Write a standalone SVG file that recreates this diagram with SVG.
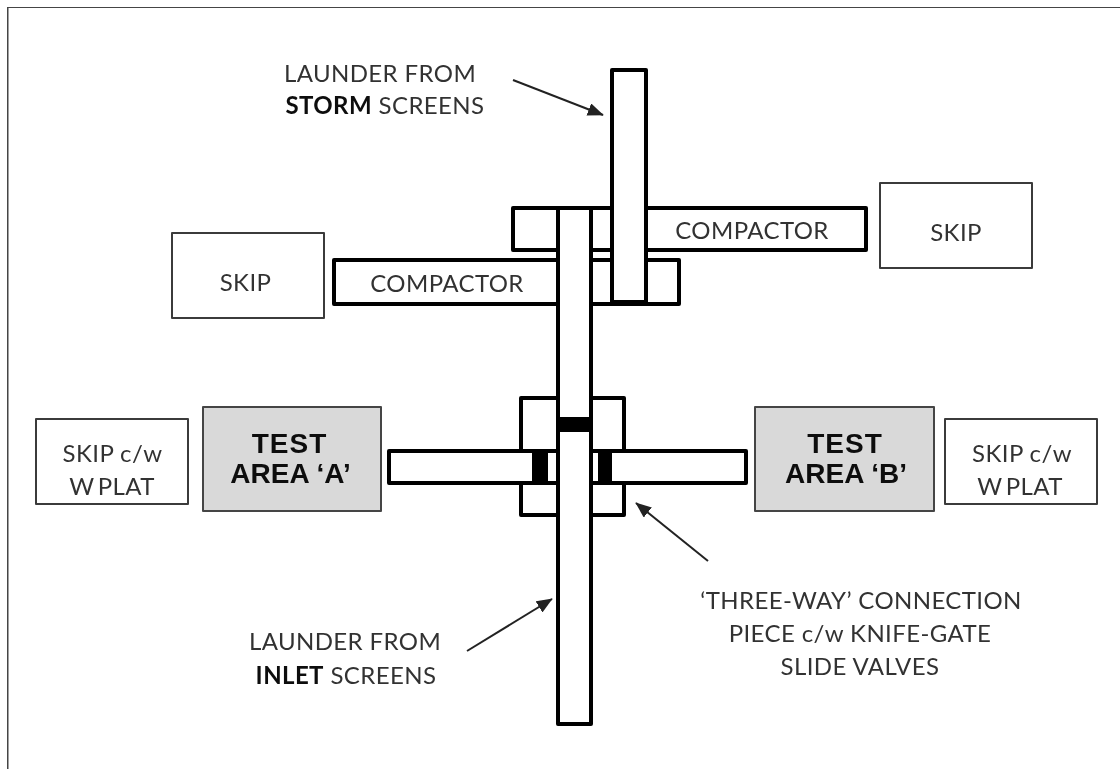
<svg xmlns="http://www.w3.org/2000/svg" width="1120" height="769" viewBox="0 0 1120 769">
<defs>
<marker id="ah" viewBox="0 0 10 10" refX="9.500" refY="5" markerWidth="16" markerHeight="13" markerUnits="userSpaceOnUse" orient="auto" preserveAspectRatio="none"><path d="M0 0L10 5L0 10Z" fill="#222"/></marker>
<filter id="soft" x="0" y="0" width="100%" height="100%"><feGaussianBlur stdDeviation="0.45"/></filter>
</defs>
<style>
.t{font-family:"Lato","Open Sans",sans-serif;font-size:24px;letter-spacing:.4px;fill:#333;text-anchor:middle}
.b{font-weight:700;fill:#111}
.box{fill:#fff;stroke:#3a3a3a;stroke-width:2;stroke-linejoin:round}
.test{fill:#d9d9d9;stroke:#444;stroke-width:2;stroke-linejoin:round}
.pipe{fill:#fff;stroke:#000;stroke-width:4;stroke-linejoin:round}
.big{font-family:"Liberation Sans",Arial,sans-serif;font-size:28px;font-weight:700;fill:#111;text-anchor:middle}
.blk{fill:#000}
.arr{fill:none;stroke:#222;stroke-width:2;marker-end:url(#ah)}
</style>
<rect width="1120" height="769" fill="#fff"/>
<g filter="url(#soft)">
<path d="M7.500 769V7H1120" fill="none" stroke="#444" stroke-width="2"/>
<g id="skip-top-right"><rect class="box" x="880" y="183" width="152" height="85"/><text class="t" x="956" y="241">SKIP</text></g>
<g id="skip-top-left"><rect class="box" x="172" y="233" width="152" height="85"/><text class="t" x="245.500" y="291">SKIP</text></g>
<g id="compactor-upper"><rect class="pipe" x="513" y="208" width="353" height="42"/><text class="t" x="752" y="239">COMPACTOR</text></g>
<g id="compactor-lower"><rect class="pipe" x="334" y="260" width="345" height="44"/><text class="t" x="447" y="292">COMPACTOR</text></g>
<g id="three-way-connection"><rect class="pipe" x="521" y="398" width="103" height="117"/></g>
<g id="cross-launder"><rect class="pipe" x="389" y="451" width="357" height="32"/>
<rect class="blk" x="532" y="451" width="16" height="32"/><rect class="blk" x="598" y="451" width="14" height="32"/></g>
<g id="inlet-launder"><rect class="pipe" x="558" y="208" width="33" height="516"/><rect class="blk" x="558" y="417" width="33" height="15"/></g>
<g id="storm-launder"><rect class="pipe" x="612" y="70" width="34" height="232"/></g>
<g id="skip-left"><rect class="box" x="36" y="419" width="152" height="85"/><text class="t" x="112.500" y="462">SKIP c/w</text><text class="t" x="112" y="495" word-spacing="-3">W PLAT</text></g>
<g id="test-area-a"><rect class="test" x="203" y="407" width="178" height="104"/><text class="big" x="289.500" y="453" letter-spacing="1">TEST</text><text class="big" x="290.500" y="483">AREA ‘A’</text></g>
<g id="test-area-b"><rect class="test" x="755" y="407" width="179" height="104"/><text class="big" x="845" y="453" letter-spacing="1">TEST</text><text class="big" x="846" y="483">AREA ‘B’</text></g>
<g id="skip-right"><rect class="box" x="945" y="419" width="152" height="85"/><text class="t" x="1022" y="462">SKIP c/w</text><text class="t" x="1020" y="495" word-spacing="-3">W PLAT</text></g>
<g id="label-storm"><text class="t" x="380" y="82">LAUNDER FROM</text><text class="t" x="385" y="114"><tspan class="b">STORM</tspan> SCREENS</text></g>
<g id="label-inlet"><text class="t" x="345" y="650">LAUNDER FROM</text><text class="t" x="346" y="684"><tspan class="b">INLET</tspan> SCREENS</text></g>
<g id="label-three-way"><text class="t" x="861" y="609">‘THREE-WAY’ CONNECTION</text><text class="t" x="860" y="642">PIECE c/w KNIFE-GATE</text><text class="t" x="860" y="675">SLIDE VALVES</text></g>
<g id="connectors">
<line class="arr" x1="513" y1="80" x2="603" y2="115"/>
<line class="arr" x1="467" y1="651" x2="552" y2="599"/>
<line class="arr" x1="708" y1="561" x2="636" y2="503"/>
</g>
</g>
</svg>
